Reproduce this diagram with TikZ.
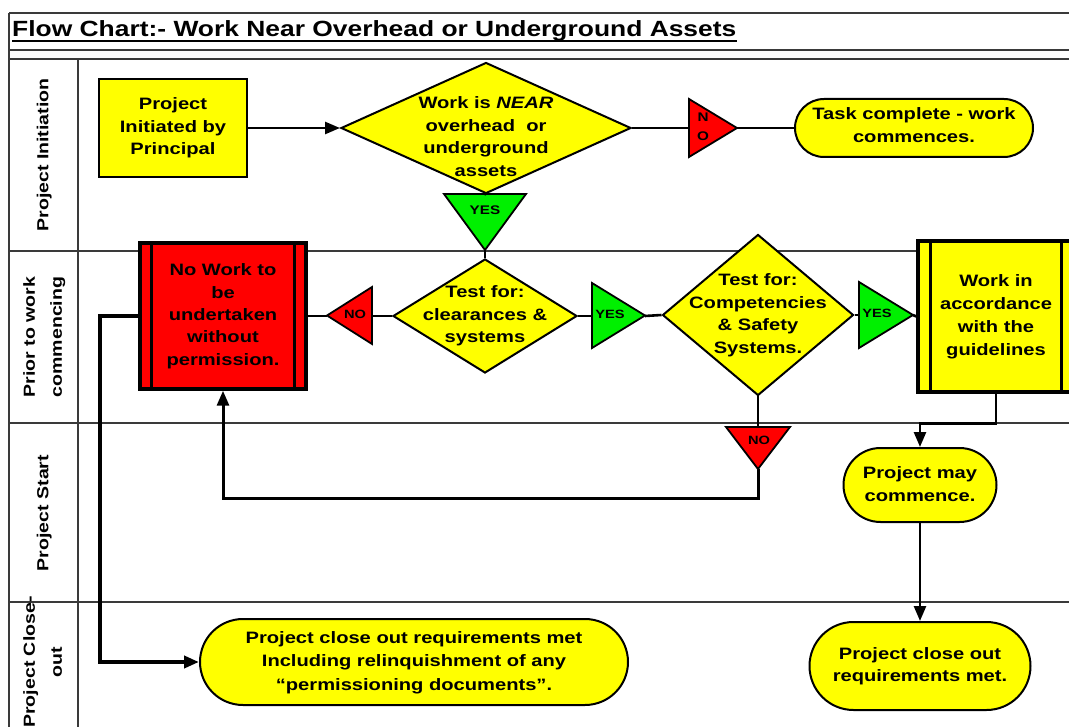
\documentclass[tikz,border=0pt]{standalone}
\usepackage{fontspec}
\setmainfont{Liberation Sans}
\usepackage{graphicx}
\usetikzlibrary{shapes.geometric,shapes.misc,arrows.meta}
\definecolor{yel}{HTML}{FFFF00}
\definecolor{rd}{HTML}{FF0000}
\definecolor{grn}{HTML}{00F000}
\definecolor{lanec}{HTML}{3A3A3A}
\newcommand{\TX}[4]{\makebox[0pt]{\raisebox{\dimexpr(\depth-\height)/2-#1\relax}[0pt][0pt]{\scalebox{1.22}[1]{\fontsize{#2}{#3}\selectfont\bfseries\begin{tabular}{@{}c@{}}#4\end{tabular}}}}}
\tikzset{
 box/.style={draw, line width=2.5pt, fill=yel, rectangle, inner sep=0pt},
 dia/.style={draw, line width=2pt, fill=yel, diamond, inner sep=0pt},
 term/.style={draw, line width=2pt, fill=yel, rounded rectangle, inner sep=0pt},
 pproc/.style={draw, line width=3.5pt, rectangle, inner sep=0pt},
 tri/.style={draw, line width=1.8pt, line join=miter},
 conn/.style={line width=2.6pt},
 arr/.style={-{Triangle[length=15pt,width=12pt]}},
 lanel/.style={draw=lanec, line width=1.2pt},
 lbl/.style={inner sep=0pt},
}
\begin{document}
\begin{tikzpicture}[x=1pt,y=1pt]
\useasboundingbox (0,0) rectangle (1069,-727);
\fill[white] (0,0) rectangle (1069,-727);
% lanes
\draw[lanel] (9,-13) -- (1069,-13);
\draw[lanel] (9,-50) -- (1069,-50);
\draw[lanel] (9,-59) -- (1069,-59);
\draw[lanel] (9,-251) -- (1069,-251);
\draw[lanel] (9,-423) -- (1069,-423);
\draw[lanel] (9,-602) -- (1069,-602);
\draw[lanel] (9,-13) -- (9,-727);
\draw[lanel] (78,-59) -- (78,-727);
% title
\node[lbl, anchor=base west] (title) at (12,-37) {\scalebox{1.2}[1]{\fontsize{22pt}{26pt}\selectfont\bfseries Flow Chart:- Work Near Overhead or Underground Assets}};
\draw[line width=1.6pt] ([yshift=-4pt]title.base west) -- ([yshift=-4pt]title.base east);
% lane labels
\node[lbl, rotate=90] (L1) at (43,-155) {\TX{0pt}{16pt}{27pt}{Project Initiation}};
\node[lbl, rotate=90] (L2) at (43,-337) {\TX{0pt}{16pt}{27pt}{Prior to work\\commencing}};
\node[lbl, rotate=90] (L3) at (43,-513) {\TX{0pt}{16pt}{27pt}{Project Start}};
\node[lbl, rotate=90] (L4) at (43,-662) {\TX{0pt}{16pt}{27pt}{Project Close-\\out}};
% main nodes
\node[box, minimum width=148pt, minimum height=98pt] (A) at (173,-128) {\TX{0pt}{16.5pt}{22.5pt}{Project\\Initiated by\\Principal}};
\node[dia, minimum width=290pt, minimum height=131pt] (D1) at (486,-128) {\TX{10pt}{16.5pt}{22.5pt}{Work is \textit{NEAR}\\overhead~ or\\underground\\assets}};
\node[term, minimum width=238pt, minimum height=58pt] (T1) at (914,-128) {\TX{-2pt}{16.5pt}{23pt}{Task complete - work\\commences.}};
\node[dia, minimum width=184pt, minimum height=114pt] (D2) at (485,-316) {\TX{0pt}{16.5pt}{22.5pt}{Test for:\\clearances \&\\systems}};
\node[pproc, fill=rd, minimum width=166pt, minimum height=146pt] (R) at (223,-316) {\TX{0pt}{16.5pt}{22.3pt}{No Work to\\be\\undertaken\\without\\permission.}};
\draw[line width=3pt] ([xshift=13pt]R.north west) -- ([xshift=13pt]R.south west);
\draw[line width=3pt] ([xshift=-13pt]R.north east) -- ([xshift=-13pt]R.south east);
\node[dia, minimum width=191pt, minimum height=161pt] (D3) at (758,-315) {\TX{0pt}{16.5pt}{22.5pt}{Test for:\\Competencies\\\& Safety\\Systems.}};
\node[pproc, fill=yel, minimum width=156pt, minimum height=151pt] (W) at (996,-316.5) {\TX{0pt}{16.5pt}{22.7pt}{Work in\\accordance\\with the\\guidelines}};
\draw[line width=3pt] ([xshift=14pt]W.north west) -- ([xshift=14pt]W.south west);
\draw[line width=3pt] ([xshift=-14pt]W.north east) -- ([xshift=-14pt]W.south east);
\node[term, minimum width=153pt, minimum height=74pt] (PM) at (920,-485) {\TX{0pt}{16.5pt}{23pt}{Project may\\commence.}};
\node[term, minimum width=221pt, minimum height=88pt] (CO2) at (920,-666) {\TX{0pt}{16.5pt}{22.5pt}{Project close out\\requirements met.}};
\node[term, minimum width=428pt, minimum height=86pt] (CO1) at (414,-662) {\TX{0pt}{16.5pt}{23.5pt}{Project close out requirements met\\Including relinquishment of any\\``permissioning documents''.}};
% decision triangles
\filldraw[tri, fill=rd] (689,-99) -- (689,-157) -- (737,-128) -- cycle;
\coordinate (no1in) at (689,-128);
\coordinate (no1out) at (737,-128);
\node[lbl] (no1) at (703,-127) {\TX{0pt}{12.5pt}{19pt}{N\\O}};
\filldraw[tri, fill=grn] (444,-194) -- (526,-194) -- (485,-250) -- cycle;
\coordinate (yes1in) at (485,-194);
\coordinate (yes1out) at (485,-250);
\node[lbl] (yes1) at (485,-212) {\TX{0pt}{12.5pt}{13pt}{YES}};
\filldraw[tri, fill=rd] (372,-287) -- (372,-344) -- (327,-315.5) -- cycle;
\coordinate (no2in) at (372,-316);
\coordinate (no2out) at (327,-316);
\node[lbl] (no2) at (355,-316) {\TX{0pt}{12pt}{13pt}{NO}};
\filldraw[tri, fill=grn] (592,-283) -- (592,-348) -- (645,-315.5) -- cycle;
\coordinate (yes2in) at (592,-316);
\coordinate (yes2out) at (645,-316);
\node[lbl] (yes2) at (610,-316) {\TX{0pt}{12pt}{13pt}{YES}};
\filldraw[tri, fill=grn] (859,-282) -- (859,-348) -- (913,-315) -- cycle;
\coordinate (yes3in) at (859,-315);
\coordinate (yes3out) at (913,-315);
\node[lbl] (yes3) at (877,-315) {\TX{0pt}{12pt}{13pt}{YES}};
\filldraw[tri, fill=rd] (726,-427) -- (790,-427) -- (758,-469) -- cycle;
\coordinate (no3in) at (758,-427);
\coordinate (no3out) at (758,-469);
\node[lbl] (no3) at (759,-442) {\TX{0pt}{12pt}{13pt}{NO}};
% connectors
\draw[conn, arr] (A.east) -- (D1.west);
\draw[conn] (D1.east) -- (no1in);
\draw[conn] (no1out) -- (T1.west);
\draw[conn] (D1.south) -- (yes1in);
\draw[conn] (yes1out) -- (D2.north);
\draw[conn] (D2.west) -- (no2in);
\draw[conn] (no2out) -- (R.east);
\draw[conn] (D2.east) -- (yes2in);
\draw[conn] (yes2out) -- (D3.west);
\draw[conn] (D3.east) -- (yes3in);
\draw[conn] (yes3out) -- (W.west);
\draw[conn] (D3.south) -- (no3in);
\draw[conn, line width=3pt, arr] (no3out) -- ++(0,-29) -| (R.south);
\draw[conn, arr] (W.south) -- ++(0,-30) -| (PM.north);
\draw[conn, arr] (PM.south) -- (CO2.north);
\draw[conn, line width=4pt, arr] (R.west) -- ++(-38,0) |- (CO1.west);
\end{tikzpicture}
\end{document}
